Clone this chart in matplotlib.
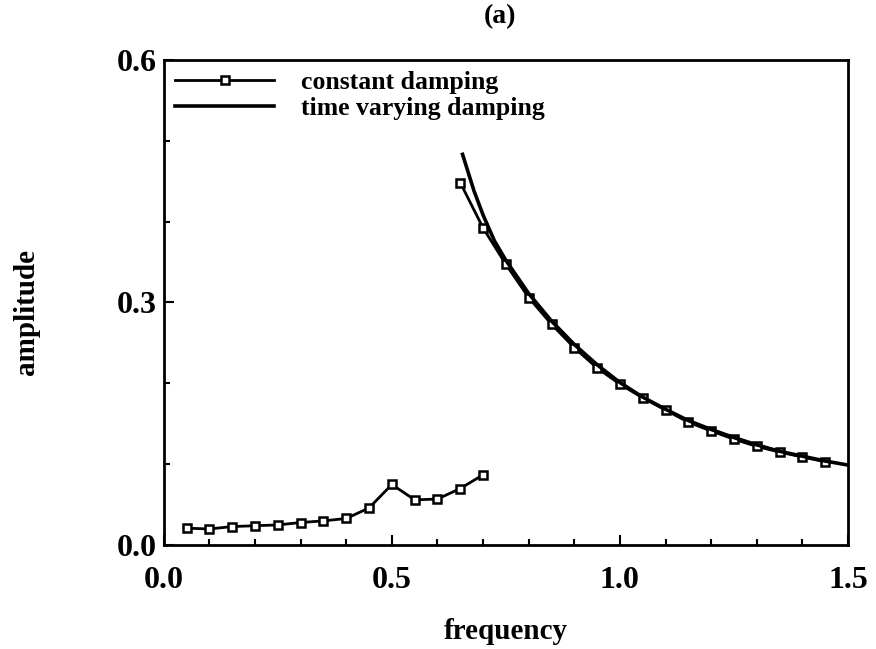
import matplotlib.pyplot as plt
from matplotlib.ticker import MultipleLocator

# constant damping, low-frequency branch
freq_low = [0.05, 0.10, 0.15, 0.20, 0.25, 0.30, 0.35, 0.40, 0.45, 0.50, 0.55, 0.60, 0.65, 0.70]
amp_low = [0.021, 0.020, 0.023, 0.024, 0.025, 0.028, 0.030, 0.033, 0.046, 0.075, 0.056, 0.057, 0.070, 0.087]

# constant damping, high-frequency branch
freq_high = [0.65, 0.70, 0.75, 0.80, 0.85, 0.90, 0.95, 1.00, 1.05, 1.10, 1.15, 1.20, 1.25, 1.30, 1.35, 1.40, 1.45]
amp_high = [0.448, 0.392, 0.347, 0.306, 0.273, 0.244, 0.219, 0.199, 0.182, 0.167, 0.152, 0.141, 0.131, 0.122, 0.115, 0.109, 0.103]

# time varying damping
freq_tv = [0.655, 0.68, 0.70, 0.725, 0.75, 0.80, 0.85, 0.90, 0.95, 1.00, 1.05, 1.10, 1.15, 1.20, 1.25, 1.30, 1.35, 1.40, 1.45, 1.50]
amp_tv = [0.483, 0.438, 0.408, 0.376, 0.352, 0.311, 0.277, 0.248, 0.223, 0.201, 0.183, 0.168, 0.154, 0.143, 0.133, 0.124, 0.116, 0.110, 0.104, 0.099]

plt.rcParams['font.family'] = ['Liberation Serif', 'DejaVu Serif']
plt.rcParams['font.weight'] = 'bold'

fig = plt.figure(figsize=(8.76, 6.49), dpi=100)
ax = fig.add_axes([0.187, 0.160, 0.781, 0.748])

ax.plot(freq_low, amp_low, color='black', lw=2, marker='s', ms=5.5,
        mfc='white', mec='black', mew=1.8, label='constant damping')
ax.plot(freq_high, amp_high, color='black', lw=2, marker='s', ms=5.5,
        mfc='white', mec='black', mew=1.8)
ax.plot(freq_tv, amp_tv, color='black', lw=2.6, label='time varying damping')

ax.set_xlim(0, 1.5)
ax.set_ylim(0, 0.6)
ax.set_xticks([0.0, 0.5, 1.0, 1.5])
ax.set_yticks([0.0, 0.3, 0.6])
ax.xaxis.set_minor_locator(MultipleLocator(0.1))
ax.yaxis.set_minor_locator(MultipleLocator(0.1))
ax.tick_params(which='both', direction='in', labelsize=23, width=1.5)
ax.tick_params(which='major', length=7)
ax.tick_params(which='minor', length=4)
ax.tick_params(axis='x', pad=15)
ax.tick_params(axis='y', pad=5)
for s in ax.spines.values():
    s.set_linewidth(2)

ax.set_xlabel('frequency', fontsize=21, fontweight='bold')
ax.set_ylabel('amplitude', fontsize=21, fontweight='bold')
ax.xaxis.set_label_coords(0.5, -0.15)
ax.yaxis.set_label_coords(-0.181, 0.48)
fig.text(0.571, 0.975, '(a)', fontsize=20, fontweight='bold', ha='center', va='center')

ax.legend(loc='upper left', frameon=False, prop={'size': 18.5, 'weight': 'bold'},
          numpoints=1, handlelength=3.85, handletextpad=1.05, labelspacing=0.1,
          borderaxespad=0.05)

fig.savefig('out.png', dpi=100)
